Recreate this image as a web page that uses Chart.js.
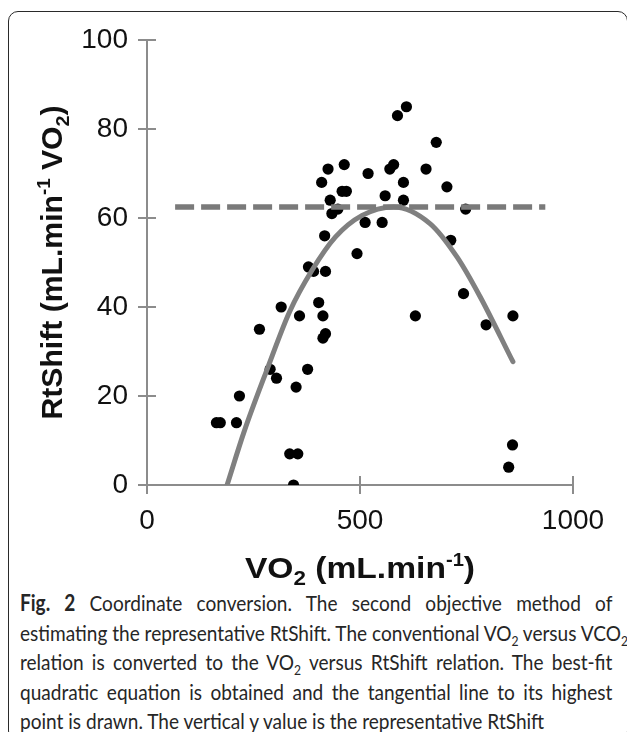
<!DOCTYPE html>
<html lang="en">

<head>
    <meta charset="UTF-8">
    <meta name="viewport" content="width=device-width, initial-scale=1.0">
    <title>Coordinate conversion</title>
    <script src="https://cdn.jsdelivr.net/npm/chart.js"></script>
    <style>
        body {
            margin: 0;
            background-color: #ffffff;
            width: 627px;
            height: 732px;
            overflow: hidden;
            position: relative;
        }

        .frame {
            position: absolute;
            left: 8px;
            top: 11px;
            width: 620px;
            height: 730px;
            border: 1px solid #2a2a2a;
            border-radius: 10px;
            box-sizing: border-box;
        }

        #chart-container {
            position: absolute;
            left: 0;
            top: 0;
            width: 627px;
            height: 586px;
        }

        .caption {
            position: absolute;
            left: 20px;
            top: 588px;
            width: 684px;
            transform: scaleX(0.866);
            transform-origin: left top;
            font-family: Lato, "Open Sans", sans-serif;
            font-size: 22px;
            color: #262626;
        }

        .caption div {
            height: 29.5px;
            line-height: 29.5px;
            white-space: nowrap;
            text-align: justify;
            text-align-last: justify;
        }

        .caption div.last {
            text-align-last: left;
        }

        .caption sub {
            font-size: 14px;
            line-height: 0;
        }
    </style>
</head>

<body>

    <div class="frame"></div>
    <div id="chart-container">
        <canvas id="scatter" width="627" height="586"></canvas>
    </div>
    <div class="caption">
        <div><b>Fig. 2</b> Coordinate conversion. The second objective method of</div>
        <div>estimating the representative RtShift. The conventional VO<sub>2</sub> versus VCO<sub>2</sub></div>
        <div>relation is converted to the VO<sub>2</sub> versus RtShift relation. The best-fit</div>
        <div>quadratic equation is obtained and the tangential line to its highest</div>
        <div class="last">point is drawn. The vertical y value is the representative RtShift</div>
    </div>

    <script>
        // measured points (VO2 in mL/min, RtShift)
        const vo2 = [163, 172, 210, 217, 264, 289, 304, 315, 335, 354, 344, 350, 358, 377, 379, 391,
            403, 413, 413, 419, 419, 410, 417, 425, 430, 434, 448, 458, 463, 468, 493, 512,
            519, 552, 559, 570, 579, 588, 602, 602, 609, 630, 655, 679, 704, 713, 743, 748,
            796, 849, 858, 859];
        const rtShift = [14, 14, 14, 20, 35, 26, 24, 40, 7, 7, 0, 22, 38, 26, 49, 48,
            41, 38, 33, 34, 48, 68, 56, 71, 64, 61, 62, 66, 72, 66, 52, 59,
            70, 59, 65, 71, 72, 83, 64, 68, 85, 38, 71, 77, 67, 55, 43, 62,
            36, 4, 9, 38];

        // best-fit quadratic
        const fitX = [188, 228, 282, 335, 387, 442, 505, 579, 665, 728, 782, 859];
        const fitY = [0, 12, 26, 39, 48.2, 55.7, 60.6, 62.5, 58.7, 51.2, 42.3, 27.7];

        // tangent line through the top of the curve
        const tangentX = [66, 935];
        const tangentY = [62.5, 62.5];

        const axisGrey = '#8c8c8c';
        const tickFont = { family: '"Liberation Sans", Arial, sans-serif', size: 28 };

        function toXY(xs, ys) {
            return xs.map((x, i) => ({ x: x, y: ys[i] }));
        }

        // ticks in the source cross the axis, so add the inner half
        const innerTicks = {
            id: 'innerTicks',
            beforeDatasetsDraw(chart) {
                const ctx = chart.ctx;
                const xs = chart.scales.x, ys = chart.scales.y;
                ctx.save();
                ctx.strokeStyle = axisGrey;
                ctx.lineWidth = 2;
                ctx.beginPath();
                xs.ticks.forEach(t => {
                    const px = xs.getPixelForValue(t.value);
                    ctx.moveTo(px, ys.bottom);
                    ctx.lineTo(px, ys.bottom - 9);
                });
                ys.ticks.forEach(t => {
                    const py = ys.getPixelForValue(t.value);
                    ctx.moveTo(xs.left, py);
                    ctx.lineTo(xs.left + 9, py);
                });
                ctx.stroke();
                ctx.restore();
            }
        };

        // axis titles with sub/superscripts
        function drawRich(ctx, parts, stretch) {
            let total = 0;
            parts.forEach(p => {
                ctx.font = 'bold ' + p.size + 'px "Liberation Sans", Arial, sans-serif';
                p.w = ctx.measureText(p.text).width;
                total += p.w;
            });
            ctx.scale(stretch, 1);
            let x = -total / 2;
            parts.forEach(p => {
                ctx.font = 'bold ' + p.size + 'px "Liberation Sans", Arial, sans-serif';
                ctx.fillText(p.text, x, p.dy || 0);
                x += p.w;
            });
        }

        const axisTitles = {
            id: 'axisTitles',
            afterDraw(chart) {
                const ctx = chart.ctx;
                const area = chart.chartArea;
                ctx.save();
                ctx.fillStyle = '#111';
                ctx.textBaseline = 'alphabetic';
                ctx.translate((area.left + area.right) / 2, area.bottom + 93);
                drawRich(ctx, [
                    { text: 'VO', size: 30 },
                    { text: '2', size: 20, dy: 7 },
                    { text: ' (mL.min', size: 30 },
                    { text: '-1', size: 18, dy: -12 },
                    { text: ')', size: 30 }
                ], 1.12);
                ctx.restore();

                ctx.save();
                ctx.fillStyle = '#111';
                ctx.textBaseline = 'alphabetic';
                ctx.translate(62, (area.top + area.bottom) / 2);
                ctx.rotate(-Math.PI / 2);
                drawRich(ctx, [
                    { text: 'RtShift (mL.min', size: 29 },
                    { text: '-1', size: 18, dy: -12 },
                    { text: ' VO', size: 29 },
                    { text: '2', size: 19, dy: 7 },
                    { text: ')', size: 29 }
                ], 1.04);
                ctx.restore();
            }
        };

        const ctx = document.getElementById('scatter').getContext('2d');
        new Chart(ctx, {
            type: 'scatter',
            data: {
                datasets: [
                    {
                        label: 'Tangent',
                        data: toXY(tangentX, tangentY),
                        showLine: true,
                        borderColor: '#7a7a7a',
                        borderWidth: 5.5,
                        borderDash: [19, 7],
                        pointRadius: 0,
                        order: 1
                    },
                    {
                        label: 'Quadratic fit',
                        data: toXY(fitX, fitY),
                        showLine: true,
                        borderColor: '#808080',
                        borderWidth: 5,
                        borderCapStyle: 'round',
                        cubicInterpolationMode: 'monotone',
                        pointRadius: 0,
                        order: 2
                    },
                    {
                        label: 'RtShift',
                        data: toXY(vo2, rtShift),
                        backgroundColor: '#000',
                        borderWidth: 0,
                        pointRadius: 5.6,
                        order: 3
                    }
                ]
            },
            options: {
                responsive: false,
                animation: false,
                events: [],
                layout: { padding: { top: 40, right: 54, left: 0, bottom: 0 } },
                plugins: {
                    legend: { display: false },
                    tooltip: { enabled: false }
                },
                scales: {
                    x: {
                        min: 0,
                        max: 1000,
                        afterFit: s => { s.height = 101; },
                        ticks: {
                            stepSize: 500, font: tickFont, color: '#111', padding: 10, maxRotation: 0,
                            callback: v => String(v)
                        },
                        grid: { drawOnChartArea: false, tickLength: 9, color: axisGrey, lineWidth: 2 },
                        border: { color: axisGrey, width: 2 }
                    },
                    y: {
                        min: 0,
                        max: 100,
                        afterFit: s => { s.width = 147; },
                        ticks: { stepSize: 20, font: tickFont, color: '#111', padding: 10 },
                        grid: { drawOnChartArea: false, tickLength: 9, color: axisGrey, lineWidth: 2 },
                        border: { color: axisGrey, width: 2 }
                    }
                }
            },
            plugins: [innerTicks, axisTitles]
        });
    </script>

</body>

</html>
